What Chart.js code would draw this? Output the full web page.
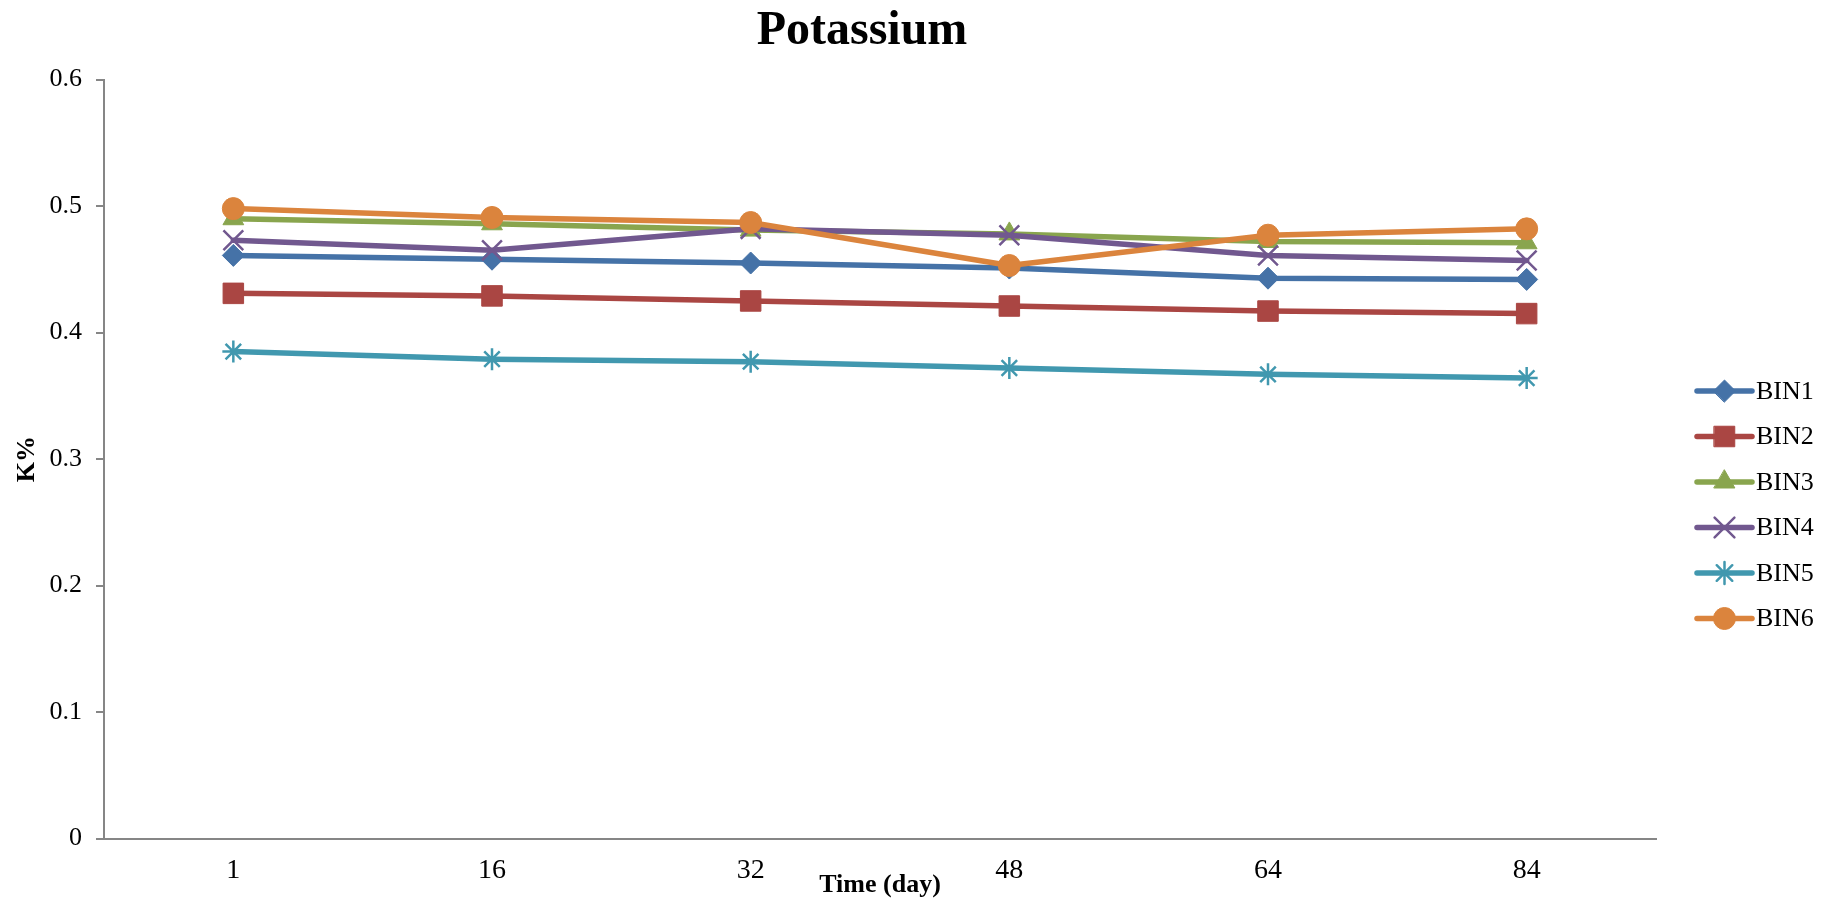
<!DOCTYPE html>
<html lang="en">
<head>
<meta charset="UTF-8">
<title>Potassium</title>
<script src="https://cdn.jsdelivr.net/npm/chart.js@4/dist/chart.umd.min.js"></script>
<style>
    body {
        margin: 0;
        background: #ffffff;
    }
    canvas {
        display: block;
    }
</style>
</head>
<body>
<canvas id="potassiumChart" width="1836" height="904"></canvas>
<script>
// sampling days on the x axis
const days = ['1', '16', '32', '48', '64', '84'];
const yTickLabels = ['0', '0.1', '0.2', '0.3', '0.4', '0.5', '0.6'];

// K% per bin
const bin1 = [0.461, 0.458, 0.455, 0.451, 0.443, 0.442];
const bin2 = [0.431, 0.429, 0.425, 0.421, 0.417, 0.415];
const bin3 = [0.490, 0.486, 0.481, 0.478, 0.472, 0.471];
const bin4 = [0.473, 0.465, 0.482, 0.477, 0.461, 0.457];
const bin5 = [0.385, 0.379, 0.377, 0.372, 0.367, 0.364];
const bin6 = [0.498, 0.491, 0.487, 0.453, 0.477, 0.482];

const binNames = ['BIN1', 'BIN2', 'BIN3', 'BIN4', 'BIN5', 'BIN6'];
const binValues = [bin1, bin2, bin3, bin4, bin5, bin6];
const binColors = ['#4572A7', '#AA4643', '#89A54E', '#71588F', '#4198AF', '#DB843D'];
const binMarkers = [
    { style: 'rectRot', radius: 11, border: 1 },
    { style: 'rect', radius: 14.5, border: 1 },
    { style: 'triangle', radius: 12, border: 1 },
    { style: 'crossRot', radius: 14, border: 2.5 },
    { style: 'star', radius: 11, border: 2.5 },
    { style: 'circle', radius: 11, border: 1 }
];

const serif = "'Liberation Serif', 'Times New Roman', serif";

const datasets = binNames.map((name, i) => ({
    label: name,
    data: binValues[i],
    borderColor: binColors[i],
    backgroundColor: binColors[i],
    borderWidth: 5.5,
    borderCapStyle: 'round',
    borderJoinStyle: 'round',
    tension: 0,
    fill: false,
    pointStyle: binMarkers[i].style,
    pointRadius: binMarkers[i].radius,
    pointBorderWidth: binMarkers[i].border,
    pointBackgroundColor: binColors[i],
    pointBorderColor: binColors[i],
    // later bins are painted over earlier ones
    order: binNames.length - i
}));

// legend on the right: short line with the series marker, then the name
const lineLegend = {
    id: 'lineLegend',
    afterDraw(chart) {
        const ctx = chart.ctx;
        const x0 = 1697, x1 = 1752, top = 391, step = 45.5;
        ctx.save();
        datasets.forEach((ds, i) => {
            const y = top + step * i;
            ctx.strokeStyle = ds.borderColor;
            ctx.lineWidth = 5.5;
            ctx.lineCap = 'round';
            ctx.beginPath();
            ctx.moveTo(x0, y);
            ctx.lineTo(x1, y);
            ctx.stroke();

            ctx.fillStyle = ds.borderColor;
            ctx.lineWidth = ds.pointBorderWidth;
            Chart.helpers.drawPoint(ctx, {
                pointStyle: ds.pointStyle,
                radius: ds.pointRadius,
                rotation: 0,
                borderWidth: ds.pointBorderWidth
            }, (x0 + x1) / 2, y);

            ctx.fillStyle = '#000000';
            ctx.font = '26px ' + serif;
            ctx.textAlign = 'left';
            ctx.textBaseline = 'middle';
            ctx.fillText(ds.label, x1 + 4, y + 1);
        });
        ctx.restore();
    }
};

new Chart(document.getElementById('potassiumChart'), {
    type: 'line',
    data: {
        labels: days,
        datasets: datasets
    },
    options: {
        responsive: false,
        animation: false,
        layout: {
            padding: { left: 0, right: 112, top: 0, bottom: 0 }
        },
        plugins: {
            legend: { display: false },
            tooltip: { enabled: false },
            title: {
                display: true,
                text: 'Potassium',
                color: '#000000',
                font: { family: serif, size: 48, weight: 'bold', lineHeight: 1.2 },
                padding: { top: 3, bottom: 19 }
            }
        },
        scales: {
            x: {
                offset: true,
                grid: { display: false, drawTicks: false },
                border: { display: true, color: '#868686', width: 2 },
                ticks: {
                    color: '#000000',
                    font: { family: serif, size: 28 },
                    padding: 15,
                    maxRotation: 0
                },
                title: {
                    display: true,
                    text: 'Time (day)',
                    color: '#000000',
                    font: { family: serif, size: 26, weight: 'bold', lineHeight: 1.2 },
                    padding: { top: 0, bottom: 3 }
                },
                afterFit(scale) {
                    scale.height = 65.5;
                }
            },
            y: {
                min: 0,
                max: 0.6,
                grid: {
                    drawOnChartArea: false,
                    drawTicks: true,
                    tickLength: 8,
                    color: '#868686',
                    lineWidth: 2
                },
                border: { display: true, color: '#868686', width: 2 },
                ticks: {
                    stepSize: 0.1,
                    color: '#000000',
                    font: { family: serif, size: 26 },
                    padding: 14,
                    callback: (value, index) => yTickLabels[index]
                },
                title: {
                    display: true,
                    text: 'K%',
                    color: '#000000',
                    font: { family: serif, size: 26, weight: 'bold', lineHeight: 1.2 },
                    padding: { top: 12, bottom: 0 }
                },
                afterFit(scale) {
                    scale.width = 104;
                }
            },
            // empty band between the plot and the legend
            legendGap: {
                position: 'right',
                display: true,
                grid: { display: false, drawTicks: false },
                border: { display: false },
                ticks: { display: false },
                afterFit(scale) {
                    scale.width = 68;
                }
            }
        }
    },
    plugins: [lineLegend]
});
</script>
</body>
</html>
